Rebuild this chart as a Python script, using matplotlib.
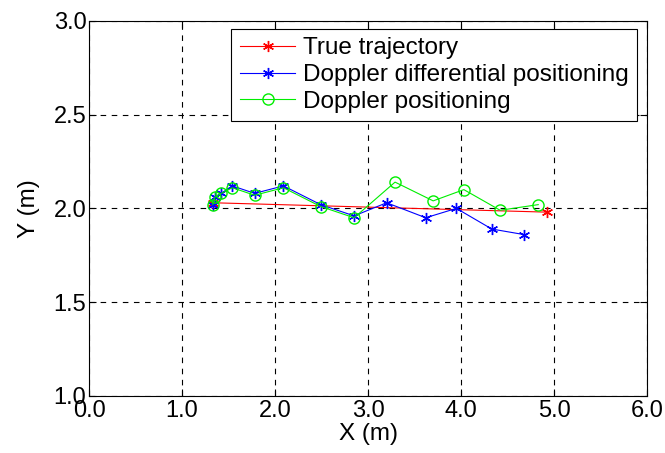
import matplotlib.pyplot as plt

plt.rcParams['font.family'] = ['Liberation Sans', 'DejaVu Sans']

# True trajectory (start and end points)
true_x = [1.33, 4.92]
true_y = [2.03, 1.98]

# Doppler differential positioning
ddp_x = [1.33, 1.35, 1.42, 1.54, 1.78, 2.09, 2.49, 2.85, 3.20, 3.62, 3.95, 4.33, 4.68]
ddp_y = [2.02, 2.06, 2.08, 2.12, 2.08, 2.12, 2.02, 1.96, 2.03, 1.95, 2.00, 1.89, 1.86]

# Doppler positioning
dp_x = [1.33, 1.35, 1.42, 1.54, 1.78, 2.09, 2.49, 2.85, 3.29, 3.70, 4.03, 4.42, 4.83]
dp_y = [2.02, 2.06, 2.08, 2.11, 2.07, 2.11, 2.01, 1.95, 2.14, 2.04, 2.10, 1.99, 2.02]

xticks = [0, 1, 2, 3, 4, 5, 6]
yticks = [1.0, 1.5, 2.0, 2.5, 3.0]

fig = plt.figure(figsize=(6.65, 4.53), dpi=100)
ax = fig.add_axes([0.134, 0.126, 0.839, 0.828])

star = (6, 2, 0)  # asterisk marker, MATLAB style
ax.plot(true_x, true_y, color='red', marker=star, markersize=8, markeredgewidth=1.0,
        linewidth=0.8, label='True trajectory')
ax.plot(ddp_x, ddp_y, color='blue', marker=star, markersize=8, markeredgewidth=1.0,
        linewidth=0.8, label='Doppler differential positioning')
ax.plot(dp_x, dp_y, color='#00ee00', marker='o', markersize=8, markerfacecolor='none',
        linewidth=0.8, label='Doppler positioning')

ax.set_xlim(0, 6)
ax.set_ylim(1.0, 3.0)
ax.set_xticks(xticks)
ax.set_yticks(yticks)
ax.set_xticklabels(['%.1f' % v for v in xticks])
ax.set_yticklabels(['%.1f' % v for v in yticks])
ax.tick_params(direction='in', top=True, right=True, labelsize=17, length=5, pad=2)
ax.tick_params(axis='x', pad=3)
ax.grid(True, color='black', linestyle=(0, (5, 5)), linewidth=0.8)

ax.set_xlabel('X (m)', fontsize=17.5, labelpad=1)
ax.set_ylabel('Y (m)', fontsize=17.5, labelpad=10)

leg = ax.legend(loc='upper right', fontsize=17.5, fancybox=False, framealpha=1,
                edgecolor='black', borderaxespad=0, handlelength=2.3,
                borderpad=0.35, labelspacing=0.2, handletextpad=0.3,
                bbox_to_anchor=(0.982, 0.979))
leg.get_frame().set_linewidth(0.8)

fig.savefig('out.png', dpi=100)
